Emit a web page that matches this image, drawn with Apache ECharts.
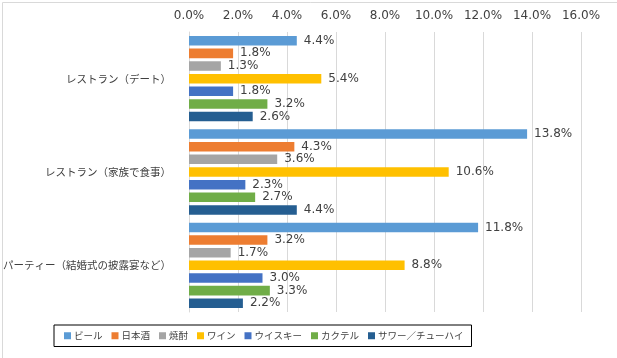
<!DOCTYPE html>
<html><head><meta charset="utf-8">
<script src="https://cdn.jsdelivr.net/npm/echarts@6/dist/echarts.min.js"></script>
<style>html,body{margin:0;padding:0;background:#fff}#c{width:617px;height:358px}</style>
</head><body><div id="c"></div>
<script>
const categories = ['レストラン（デート）', 'レストラン（家族で食事）', 'パーティー（結婚式の披露宴など）'];
const seriesNames = ['ビール', '日本酒', '焼酎', 'ワイン', 'ウイスキー', 'カクテル', 'サワー／チューハイ'];
const beer = [4.4, 13.8, 11.8];
const sake = [1.8, 4.3, 3.2];
const shochu = [1.3, 3.6, 1.7];
const wine = [5.4, 10.6, 8.8];
const whisky = [1.8, 2.3, 3.0];
const cocktail = [3.2, 2.7, 3.3];
const sour = [2.6, 4.4, 2.2];
const seriesValues = [beer, sake, shochu, wine, whisky, cocktail, sour];
const colors = ['#5B9BD5', '#ED7D31', '#A5A5A5', '#FFC000', '#4472C4', '#70AD47', '#255E91'];
const numFont = 'DejaVu Sans, Noto Sans CJK JP, sans-serif';
const jpFont = 'Noto Sans CJK JP, sans-serif';

const chart = echarts.init(document.getElementById('c'), null, {renderer: 'canvas'});
chart.setOption({
  animation: false,
  color: colors,
  graphic: [{type: 'rect', left: 0, top: 0, shape: {x: 0.5, y: 0.5, width: 616, height: 357}, style: {fill: 'none', stroke: '#D9D9D9', lineWidth: 1}, silent: true}],
  grid: {left: 189, right: 36, top: 32, bottom: 46, containLabel: false},
  xAxis: {
    type: 'value', position: 'top', min: 0, max: 16, interval: 2,
    axisLine: {show: false}, axisTick: {show: false},
    splitLine: {lineStyle: {color: '#D9D9D9', width: 1}},
    axisLabel: {margin: 10, color: '#404040', fontSize: 12, fontFamily: numFont, formatter: v => v.toFixed(1) + '%'}
  },
  yAxis: {
    type: 'category', data: categories, inverse: true,
    axisLine: {show: true, lineStyle: {color: '#D9D9D9'}}, axisTick: {show: false},
    axisLabel: {margin: 18, color: '#404040', fontSize: 10.5, fontFamily: jpFont}
  },
  legend: {
    left: 54, top: 325, padding: [6, 8, 6, 10], orient: 'horizontal',
    borderColor: '#000', borderWidth: 1, itemWidth: 7, itemHeight: 7, itemGap: 9,
    icon: 'rect',
    textStyle: {color: '#404040', fontSize: 9.5, fontFamily: jpFont, padding: [0, 0, 0, -2]},
    data: seriesNames
  },
  series: seriesNames.map((n, i) => ({
    name: n, type: 'bar', data: seriesValues[i],
    barGap: '33%', barCategoryGap: '8.5%',
    label: {show: true, position: 'right', distance: 7, color: '#404040', fontSize: 12, fontFamily: numFont, formatter: p => p.value.toFixed(1) + '%'}
  }))
});
</script></body></html>
